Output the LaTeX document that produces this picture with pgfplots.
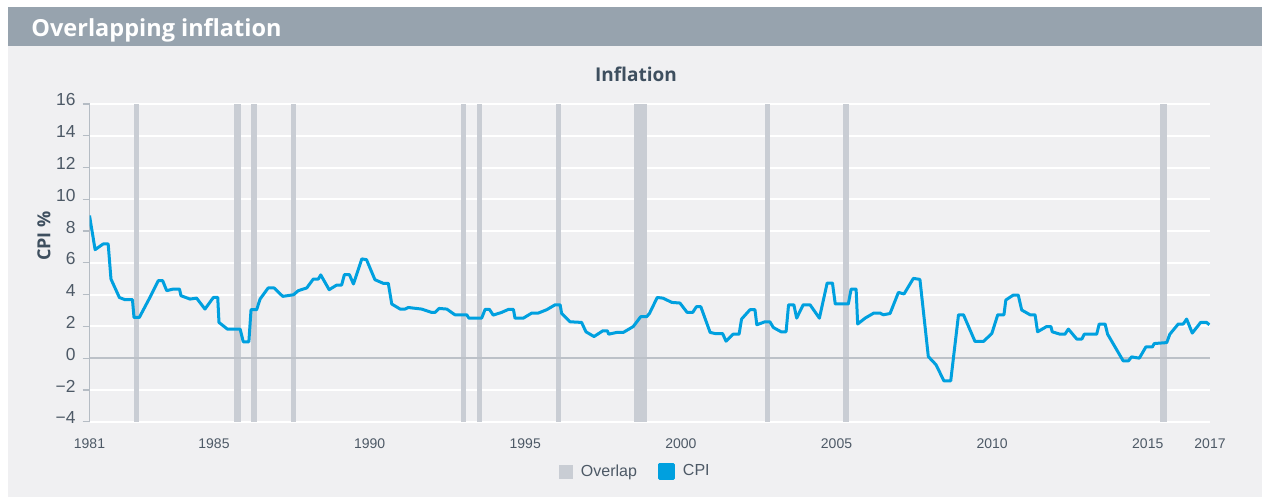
\documentclass[border=0pt]{standalone}
\usepackage{fontspec}
\setmainfont{Liberation Sans}
\newfontfamily\os{Open Sans}
\usepackage{pgfplots}
\pgfplotsset{compat=1.18}
\definecolor{panelbg}{HTML}{F0F0F2}
\definecolor{titlebar}{HTML}{97A3AE}
\definecolor{overlap}{HTML}{C9CDD4}
\definecolor{cpi}{HTML}{00A0DF}
\definecolor{axisgray}{HTML}{B5BCC4}
\definecolor{zerogray}{HTML}{BCC1C8}
\definecolor{ticktext}{HTML}{4D5966}
\definecolor{titletext}{HTML}{3E4F5F}
\begin{document}
\begin{tikzpicture}
\fill[white] (0,0) rectangle (631.5pt,249pt);
\fill[panelbg] (4pt,0.5pt) rectangle (631pt,245.5pt);
\fill[titlebar] (4pt,226pt) rectangle (631pt,245.5pt);
\node[anchor=base west, inner sep=0pt, text=white, font=\os\bfseries\fontsize{11.75pt}{14pt}\selectfont] at (15.5pt,230.5pt) {Overlapping inflation};
\node[inner sep=0pt, text=titletext, font=\os\bfseries\fontsize{9.5pt}{11pt}\selectfont] at (318pt,211.75pt) {Inflation};
\begin{axis}[
  at={(44.75pt,38.15pt)}, anchor=south west,
  scale only axis, width=560.25pt, height=158.85pt,
  xmin=1981, xmax=2017, ymin=-4, ymax=16,
  axis x line*=bottom, axis y line*=left,
  x axis line style={draw=none},
  y axis line style={-, draw=axisgray, line width=0.8pt},
  xtick={1981,1985,1990,1995,2000,2005,2010,2015,2017},
  xticklabels={1981,1985,1990,1995,2000,2005,2010,2015,2017},
  ytick={-4,-2,0,2,4,6,8,10,12,14,16},
  yticklabels={−4,−2,0,2,4,6,8,10,12,14,16},
  xtick style={draw=none},
  ytick style={draw=axisgray, line width=0.6pt},
  tick align=outside, major tick length=3.5pt,
  ymajorgrids, grid style={white, line width=1pt},
  xticklabel style={font=\fontsize{7pt}{8pt}\selectfont, text=ticktext, yshift=-1.5pt},
  yticklabel style={font=\fontsize{8.7pt}{10pt}\selectfont, text=ticktext, yshift=2pt},
  ylabel={CPI \%},
  ylabel style={at={(axis description cs:-0.0406,0.584)}, anchor=center, font=\os\bfseries\fontsize{9pt}{10pt}\selectfont, text=titletext},
  legend style={at={(0.488,-0.158)}, anchor=center, draw=none, fill=none, legend columns=-1,
    font=\fontsize{8pt}{9.6pt}\selectfont, text=ticktext,
    /tikz/every odd column/.append style={column sep=2pt},
    /tikz/every even column/.append style={column sep=8.5pt}},
  legend image code/.code={\fill[#1] (0pt,-3.5pt) rectangle (7pt,3.5pt);},
]
\addplot[fill=overlap, draw=none] coordinates {(1982.43,-4)(1982.43,16)(1982.59,16)(1982.59,-4)};
\addlegendentry{Overlap}
\addplot[fill=overlap, draw=none, forget plot] coordinates {(1985.645,-4)(1985.645,16)(1985.865,16)(1985.865,-4)};
\addplot[fill=overlap, draw=none, forget plot] coordinates {(1986.195,-4)(1986.195,16)(1986.375,16)(1986.375,-4)};
\addplot[fill=overlap, draw=none, forget plot] coordinates {(1987.47,-4)(1987.47,16)(1987.63,16)(1987.63,-4)};
\addplot[fill=overlap, draw=none, forget plot] coordinates {(1992.94,-4)(1992.94,16)(1993.10,16)(1993.10,-4)};
\addplot[fill=overlap, draw=none, forget plot] coordinates {(1993.44,-4)(1993.44,16)(1993.60,16)(1993.60,-4)};
\addplot[fill=overlap, draw=none, forget plot] coordinates {(1995.975,-4)(1995.975,16)(1996.145,16)(1996.145,-4)};
\addplot[fill=overlap, draw=none, forget plot] coordinates {(1998.50,-4)(1998.50,16)(1998.90,16)(1998.90,-4)};
\addplot[fill=overlap, draw=none, forget plot] coordinates {(2002.70,-4)(2002.70,16)(2002.86,16)(2002.86,-4)};
\addplot[fill=overlap, draw=none, forget plot] coordinates {(2005.22,-4)(2005.22,16)(2005.40,16)(2005.40,-4)};
\addplot[fill=overlap, draw=none, forget plot] coordinates {(2015.40,-4)(2015.40,16)(2015.62,16)(2015.62,-4)};
\addplot[zerogray, line width=1pt, forget plot] coordinates {(1981,0)(2017,0)};
\addplot[cpi, line width=1.5pt, line join=round, mark=none] coordinates {
(1981.00,8.98)(1981.18,6.83)(1981.44,7.19)(1981.60,7.19)(1981.69,4.98)(1981.96,3.82)
(1982.14,3.68)(1982.38,3.68)(1982.43,2.56)(1982.60,2.56)(1982.94,3.82)(1983.21,4.88)
(1983.35,4.88)(1983.48,4.25)(1983.69,4.35)(1983.89,4.35)(1983.94,3.93)(1984.23,3.72)
(1984.44,3.78)(1984.71,3.09)(1984.98,3.82)(1985.12,3.82)(1985.16,2.25)(1985.43,1.83)
(1985.84,1.83)(1985.94,1.03)(1986.12,1.03)(1986.19,3.05)(1986.37,3.05)(1986.48,3.72)
(1986.74,4.42)(1986.93,4.42)(1987.21,3.89)(1987.55,3.99)(1987.71,4.25)(1987.98,4.42)
(1988.19,4.98)(1988.35,4.98)(1988.43,5.24)(1988.70,4.31)(1988.94,4.60)(1989.10,4.60)
(1989.19,5.26)(1989.35,5.26)(1989.48,4.67)(1989.75,6.25)(1989.90,6.20)(1990.17,4.94)
(1990.44,4.71)(1990.60,4.71)(1990.71,3.41)(1990.98,3.09)(1991.14,3.09)(1991.24,3.19)
(1991.67,3.09)(1991.99,2.88)(1992.10,2.88)(1992.23,3.13)(1992.48,3.09)(1992.74,2.73)
(1993.12,2.73)(1993.19,2.52)(1993.60,2.52)(1993.71,3.07)(1993.85,3.07)(1993.97,2.71)
(1994.24,2.88)(1994.46,3.07)(1994.62,3.07)(1994.67,2.52)(1994.94,2.52)(1995.21,2.84)
(1995.42,2.84)(1995.69,3.05)(1995.96,3.36)(1996.12,3.36)(1996.17,2.81)(1996.44,2.29)
(1996.81,2.25)(1996.95,1.66)(1997.21,1.36)(1997.49,1.72)(1997.64,1.72)(1997.68,1.51)
(1997.94,1.62)(1998.15,1.62)(1998.47,1.99)(1998.71,2.61)(1998.90,2.61)(1998.99,2.81)
(1999.24,3.82)(1999.42,3.78)(1999.71,3.51)(1999.97,3.47)(2000.20,2.88)(2000.38,2.88)
(2000.50,3.24)(2000.64,3.24)(2000.94,1.62)(2001.10,1.55)(2001.34,1.55)(2001.45,1.07)
(2001.68,1.51)(2001.87,1.51)(2001.95,2.46)(2002.22,3.05)(2002.38,3.05)(2002.44,2.10)
(2002.70,2.29)(2002.86,2.29)(2002.97,1.93)(2003.22,1.66)(2003.38,1.66)(2003.46,3.36)
(2003.63,3.36)(2003.72,2.52)(2003.93,3.36)(2004.15,3.36)(2004.45,2.52)(2004.70,4.73)
(2004.87,4.73)(2004.96,3.41)(2005.38,3.41)(2005.47,4.35)(2005.63,4.35)(2005.68,2.15)
(2005.92,2.52)(2006.20,2.84)(2006.40,2.84)(2006.50,2.73)(2006.72,2.81)(2006.99,4.14)
(2007.17,4.04)(2007.47,5.02)(2007.68,4.96)(2007.95,0.10)(2008.20,-0.42)(2008.45,-1.43)
(2008.67,-1.43)(2008.92,2.73)(2009.08,2.73)(2009.45,1.05)(2009.72,1.05)(2009.99,1.55)
(2010.18,2.73)(2010.38,2.73)(2010.44,3.66)(2010.68,3.97)(2010.84,3.97)(2010.95,3.03)
(2011.22,2.73)(2011.38,2.73)(2011.46,1.66)(2011.75,1.99)(2011.89,1.99)(2011.93,1.66)
(2012.18,1.51)(2012.34,1.51)(2012.45,1.83)(2012.72,1.20)(2012.88,1.20)(2012.96,1.51)
(2013.36,1.51)(2013.44,2.15)(2013.63,2.15)(2013.71,1.51)(2014.21,-0.17)(2014.38,-0.17)
(2014.48,0.08)(2014.73,0.00)(2014.94,0.71)(2015.15,0.71)(2015.21,0.92)(2015.61,0.98)
(2015.71,1.51)(2015.98,2.15)(2016.14,2.15)(2016.25,2.46)(2016.43,1.58)(2016.70,2.25)
(2016.89,2.25)(2016.98,2.10)};
\addlegendentry{CPI}
\end{axis}
\pgfresetboundingbox
\useasboundingbox (0,0) rectangle (631.5pt,249pt);
\end{tikzpicture}
\end{document}
